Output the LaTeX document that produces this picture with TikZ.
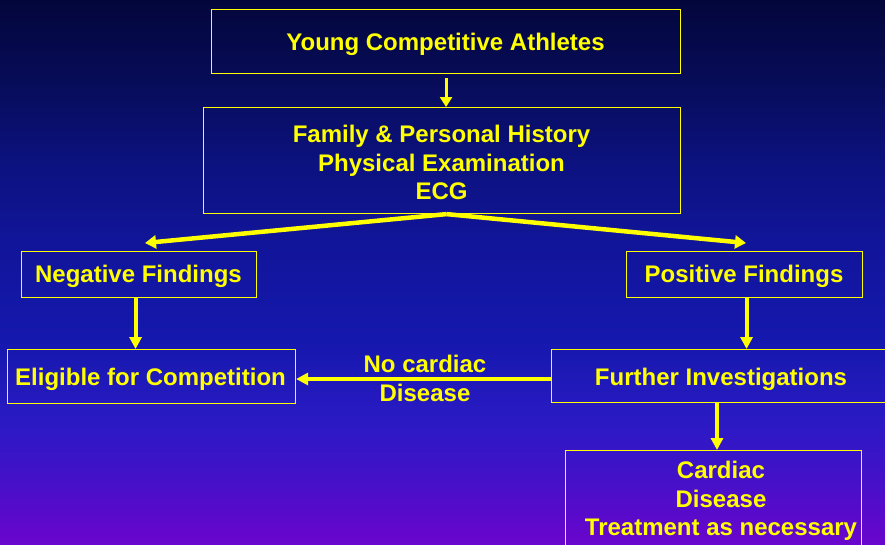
\documentclass[tikz,border=0pt]{standalone}
\usepackage{fontspec}
\setmainfont{Liberation Sans}
\usetikzlibrary{arrows.meta,calc}
\definecolor{ylw}{HTML}{FFFF00}
\definecolor{bgA}{HTML}{6A05CC}
\definecolor{bgB}{HTML}{4012C8}
\definecolor{bgC}{HTML}{2A1AC4}
\definecolor{bgD}{HTML}{1518AD}
\definecolor{bgE}{HTML}{111599}
\definecolor{bgF}{HTML}{0C1280}
\definecolor{bgG}{HTML}{070C58}
\definecolor{bgH}{HTML}{03063A}
\pgfdeclareverticalshading{bgshade}{100bp}{color(0bp)=(bgA); color(25bp)=(bgA); color(31.8bp)=(bgB); color(36.4bp)=(bgC); color(43.75bp)=(bgD); color(52.9bp)=(bgE); color(59.7bp)=(bgF); color(67.6bp)=(bgG); color(75bp)=(bgH); color(100bp)=(bgH)}
\begin{document}
\begin{tikzpicture}[x=1pt,y=-1pt,
  box/.style={draw=ylw, line width=1.1pt, inner sep=0pt, anchor=north west},
  lbl/.style={text=ylw, font=\bfseries\fontsize{24}{28.5}\selectfont, align=center, inner sep=0pt},
  thinarr/.style={draw=ylw, line width=3pt, -{Triangle[length=10pt,width=12pt]}},
  thickarr/.style={draw=ylw, line width=4.5pt, -{Triangle[length=11pt,width=13pt]}},
  varr/.style={draw=ylw, line width=4pt, -{Triangle[length=12pt,width=12pt]}}
]
\useasboundingbox (0,0) rectangle (885,544);
\shade[shading=bgshade] (-1,-1) rectangle (886,545);
% boxes
\node[box, minimum width=469pt, minimum height=64pt] (top) at (211,9) {};
\node[lbl] (toplbl) at (445.5,44) {Young Competitive Athletes};
\node[box, minimum width=477pt, minimum height=106pt] (hist) at (203,107) {};
\node[lbl] (histlbl) at (441.5,162.5) {Family \& Personal History\\Physical Examination\\ECG};
\node[box, minimum width=235pt, minimum height=46pt] (neg) at (21,251) {};
\node[lbl] (neglbl) at (138.5,276.5) {Negative Findings};
\node[box, minimum width=236pt, minimum height=46pt] (pos) at (626,251) {};
\node[lbl] (poslbl) at (744,276.5) {Positive Findings};
\node[box, minimum width=288pt, minimum height=54pt] (elig) at (7,349) {};
\node[lbl] (eliglbl) at (150.5,379) {Eligible for Competition};
\node[box, minimum width=340pt, minimum height=53pt] (furth) at (551,349) {};
\node[lbl] (furthlbl) at (721,379) {Further Investigations};
\node[box, minimum width=296pt, minimum height=110pt] (card) at (565,450) {};
\node[lbl] (cardlbl) at (721,501) {Cardiac\\Disease\\Treatment as necessary};
\node[lbl] (nocard) at (425,378.5) {No cardiac\\Disease};
% tips
\coordinate (negtip) at (145,243);
\coordinate (postip) at (746,243);
% connectors
\draw[thinarr] ($(top.south)+(0,4)$) -- (top.south |- hist.north);
\draw[thickarr] ($(hist.south)+(4.5,0)$) -- (negtip);
\draw[thickarr] ($(hist.south)+(4.5,0)$) -- (postip);
\draw[varr] ($(neg.south)+(-3.5,0)$) -- ($(neg.south |- elig.north)+(-3.5,0)$);
\draw[varr] ($(pos.south)+(2,0)$) -- ($(pos.south |- furth.north)+(2,0)$);
\draw[varr] (furth.west |- 0,379) -- (elig.east |- 0,379);
\draw[varr] (717,0 |- furth.south) -- (717,0 |- card.north);
\end{tikzpicture}
\end{document}
